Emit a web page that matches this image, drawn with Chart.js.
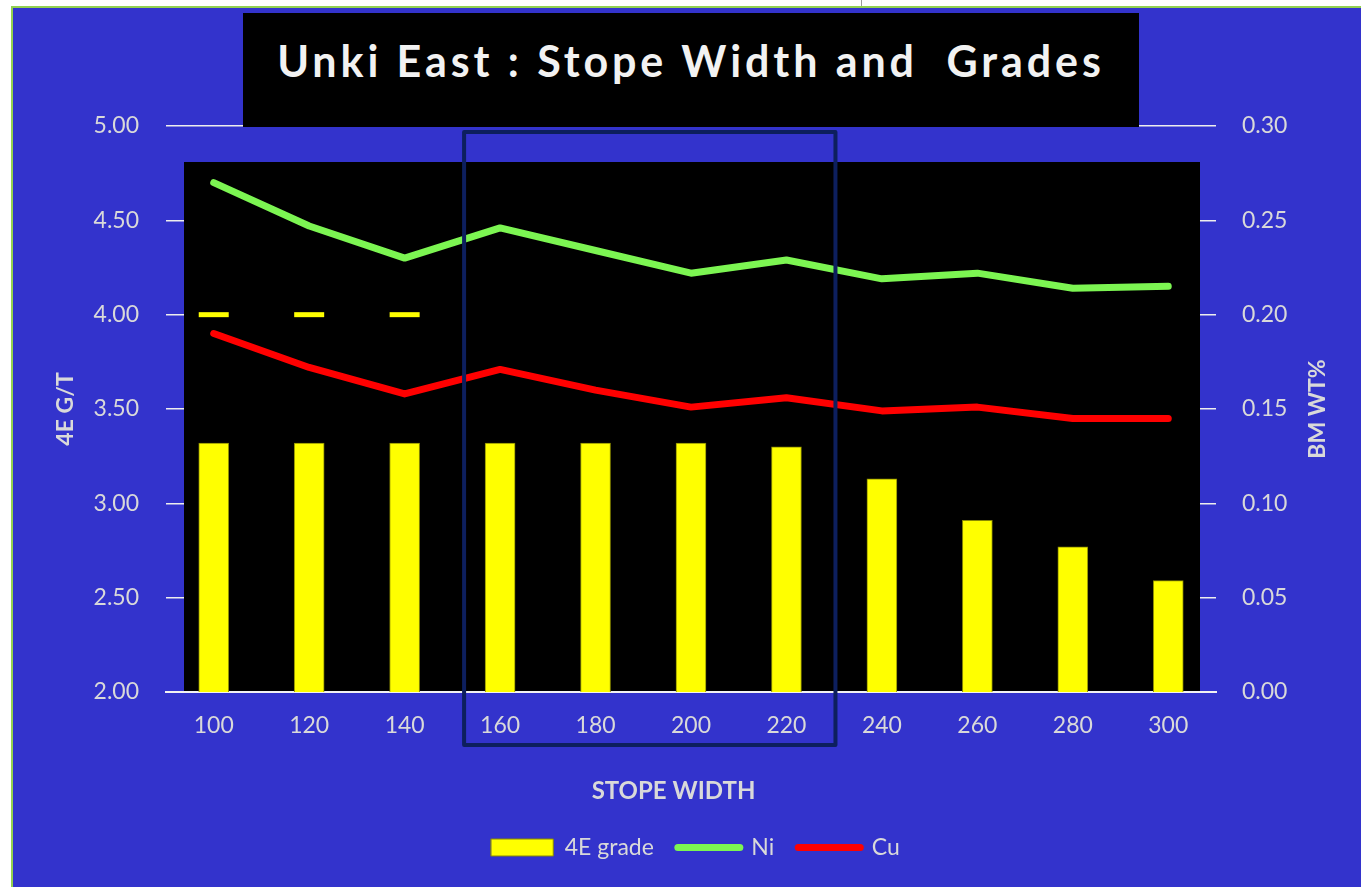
<!DOCTYPE html>
<html>
<head>
<meta charset="utf-8">
<title>Unki East : Stope Width and Grades</title>
<script src="https://cdn.jsdelivr.net/npm/chart.js@4.4.1/dist/chart.umd.min.js"></script>
<style>
  html, body { margin: 0; padding: 0; background: #fff; overflow: hidden; }
  #frame {
    position: absolute; left: 11px; top: 6px; width: 1360px; height: 890px;
    background: #3333CC; border-left: 2px solid #92D050; border-top: 2px solid #92D050;
    box-sizing: border-box;
  }
  #tick-mark { position: absolute; left: 861px; top: 0; width: 1px; height: 6px; background: #9a9a9a; }
  #chart-wrap { position: absolute; left: 0; top: 0; width: 1361px; height: 887px; }
  #title-box {
    position: absolute; left: 243px; top: 13px; width: 896px; height: 114px;
    background: #000; color: #F2F2F2; text-align: center;
    font: bold 43px Lato, "Open Sans", sans-serif; letter-spacing: 3.9px;
    line-height: 96px; white-space: pre;
  }
</style>
</head>
<body>
<div id="frame"></div>
<div id="tick-mark"></div>
<div id="chart-wrap"><canvas id="chart" width="1361" height="887"></canvas></div>
<div id="title-box">Unki East : Stope Width and  Grades</div>

<script>
// ---- datos ----
const stopeWidths = ['100', '120', '140', '160', '180', '200', '220', '240', '260', '280', '300'];
const grade4E     = [3.32, 3.32, 3.32, 3.32, 3.32, 3.32, 3.30, 3.13, 2.91, 2.77, 2.59];
const niPct       = [0.270, 0.247, 0.230, 0.246, 0.234, 0.222, 0.229, 0.219, 0.222, 0.214, 0.215];
const cuPct       = [0.190, 0.172, 0.158, 0.171, 0.160, 0.151, 0.156, 0.149, 0.151, 0.145, 0.145];
const cutoff4E    = [4.0, 4.0, 4.0, null, null, null, null, null, null, null, null];

const TEXT = '#D9D9D9';
const FONT = 'Lato, "Open Sans", sans-serif';

// Fondo negro del área de trazado (tapa la rejilla interior)
const plotBackground = {
  id: 'plotBackground',
  beforeDatasetsDraw(chart) {
    const { ctx, chartArea: a } = chart;
    ctx.save();
    ctx.fillStyle = '#000';
    ctx.fillRect(a.left + 18, a.top + 36, a.right - a.left - 34, a.bottom - a.top - 37);
    ctx.restore();
  }
};

// Recuadro azul oscuro alrededor de 160–220 + título del eje derecho (se lee de abajo hacia arriba)
const overlays = {
  id: 'overlays',
  afterDatasetsDraw(chart) {
    const { ctx, chartArea: a, scales: { x, y1 } } = chart;
    const left  = x.getPixelForValue(3) - 36;
    const right = x.getPixelForValue(6) + 49;
    ctx.save();
    ctx.strokeStyle = '#0D1F5E';
    ctx.lineWidth = 4;
    ctx.lineJoin = 'round';
    ctx.strokeRect(left, a.top + 6, right - left, a.bottom - a.top + 47);

    ctx.translate(y1.right - 43, (a.top + a.bottom) / 2);
    ctx.rotate(-Math.PI / 2);
    ctx.fillStyle = TEXT;
    ctx.font = `bold 23px ${FONT}`;
    ctx.textAlign = 'center';
    ctx.textBaseline = 'middle';
    ctx.fillText('BM WT%', 0, 0);
    ctx.restore();
  }
};

new Chart(document.getElementById('chart'), {
  data: {
    labels: stopeWidths,
    datasets: [
      {
        type: 'bar',
        label: '4E grade',
        data: grade4E,
        yAxisID: 'y',
        backgroundColor: '#FFFF00',
        borderColor: '#8A8A00',
        borderWidth: 1,
        barThickness: 30,
        order: 3
      },
      {
        type: 'line',
        label: 'Ni',
        data: niPct,
        yAxisID: 'y1',
        borderColor: '#7CF552',
        backgroundColor: '#7CF552',
        borderWidth: 7,
        borderCapStyle: 'round',
        borderJoinStyle: 'round',
        pointRadius: 0,
        tension: 0,
        order: 1
      },
      {
        type: 'line',
        label: 'Cu',
        data: cuPct,
        yAxisID: 'y1',
        borderColor: '#FF0000',
        backgroundColor: '#FF0000',
        borderWidth: 7,
        borderCapStyle: 'round',
        borderJoinStyle: 'round',
        pointRadius: 0,
        tension: 0,
        order: 1
      },
      {
        type: 'line',
        label: 'cutoff',
        data: cutoff4E,
        yAxisID: 'y',
        showLine: false,
        pointStyle: 'line',
        pointRadius: 15,
        pointBorderWidth: 5,
        pointBorderColor: '#FFFF00',
        pointBackgroundColor: '#FFFF00',
        order: 0
      }
    ]
  },
  options: {
    responsive: false,
    animation: false,
    layout: { padding: { top: 126, left: 30, right: 0, bottom: 18 } },
    scales: {
      x: {
        offset: true,
        grid: { display: false, drawTicks: false },
        border: { display: true, color: '#F2F2F2', width: 2 },
        ticks: { color: TEXT, font: { family: FONT, size: 23 }, padding: 20 },
        title: {
          display: true, text: 'STOPE WIDTH      ', color: TEXT,
          font: { family: FONT, size: 24, weight: 'bold' }, padding: { top: 0, bottom: 6 }
        },
        afterFit: s => { s.height = 120; }
      },
      y: {
        position: 'left',
        min: 2, max: 5,
        grid: { color: '#EEEEEE', lineWidth: 1.5, drawTicks: false },
        border: { display: false },
        ticks: {
          stepSize: 0.5, color: TEXT, padding: 27,
          font: { family: FONT, size: 23 },
          callback: v => v.toFixed(2)
        },
        title: {
          display: true, text: '4E G/T', color: TEXT,
          font: { family: FONT, size: 23, weight: 'bold' }, padding: { top: 22, bottom: 0 }
        },
        afterFit: s => { s.width = 136; }
      },
      y1: {
        position: 'right',
        min: 0, max: 0.3,
        grid: { display: false, drawTicks: false },
        border: { display: false },
        ticks: {
          stepSize: 0.05, color: TEXT, padding: 26,
          font: { family: FONT, size: 23 },
          callback: v => v.toFixed(2)
        },
        afterFit: s => { s.width = 145; }
      }
    },
    plugins: {
      tooltip: { enabled: false },
      legend: {
        position: 'bottom',
        labels: {
          color: TEXT,
          font: { family: FONT, size: 23 },
          usePointStyle: true,
          pointStyleWidth: 62,
          boxHeight: 17,
          padding: 24,
          filter: item => item.text !== 'cutoff',
          generateLabels: chart => chart.data.datasets.map((ds, i) => ({
            text: ds.label,
            datasetIndex: i,
            fillStyle: ds.type === 'bar' ? '#FFFF00' : ds.borderColor,
            strokeStyle: ds.type === 'bar' ? '#8A8A00' : ds.borderColor,
            lineWidth: ds.type === 'bar' ? 1 : 7,
            lineCap: 'round',
            pointStyle: ds.type === 'bar' ? 'rect' : 'line',
            fontColor: TEXT,
            hidden: false
          }))
        }
      }
    }
  },
  plugins: [plotBackground, overlays]
});
</script>
</body>
</html>
